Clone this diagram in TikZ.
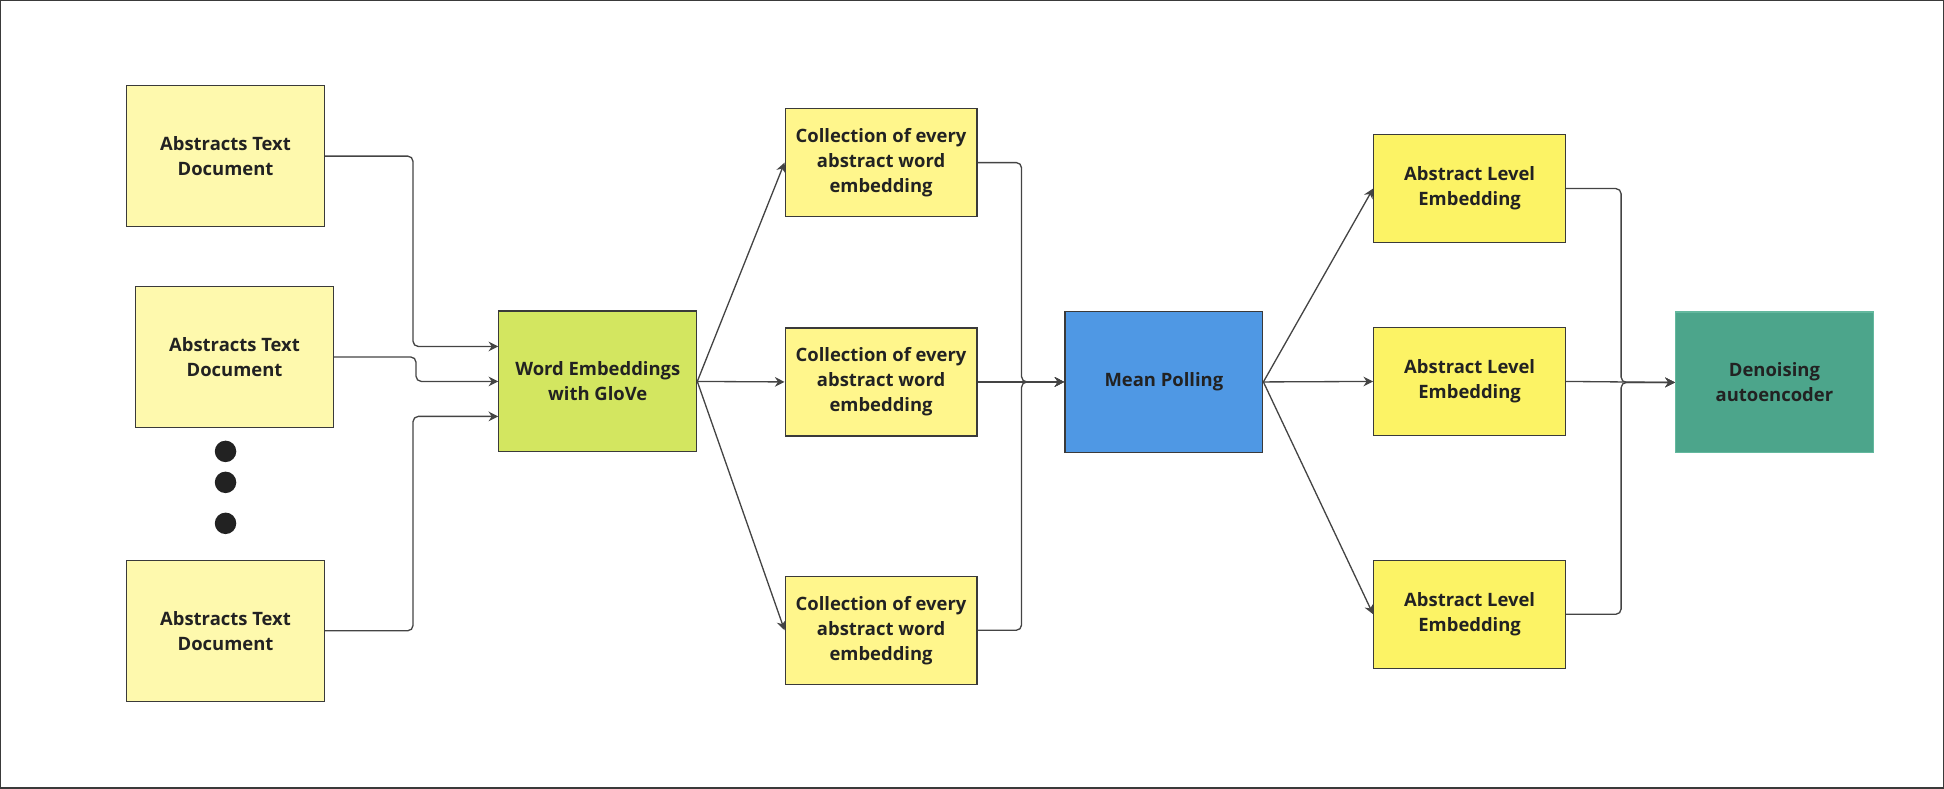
\documentclass[tikz,border=0pt]{standalone}
\usepackage{fontspec}
\setmainfont{Open Sans}
\usetikzlibrary{arrows.meta}

\definecolor{docfill}{HTML}{FEF9AD}
\definecolor{colfill}{HTML}{FFF68C}
\definecolor{lvlfill}{HTML}{FCF365}
\definecolor{gloveg}{HTML}{D3E660}
\definecolor{meanb}{HTML}{4F98E4}
\definecolor{denteal}{HTML}{4CA58B}
\definecolor{denedge}{HTML}{63B89E}
\definecolor{inkc}{HTML}{222222}
\definecolor{edgec}{HTML}{3A3A3A}
\definecolor{linkc}{HTML}{444444}

\tikzset{
  box/.style={rectangle,draw=edgec,line width=0.7pt,text=inkc,align=center,
    inner sep=0pt,font=\fontsize{10.5pt}{14.2pt}\selectfont\bfseries},
  bigbox/.style={box,minimum width=3.96cm,minimum height=2.82cm},
  smallbox/.style={box,minimum width=3.84cm,minimum height=2.16cm},
  link/.style={draw=linkc,line width=0.75pt,rounded corners=3pt,
    -{Stealth[length=5.5pt,width=5.5pt]}},
  dot/.style={circle,fill=inkc,inner sep=0pt,minimum size=0.43cm}
}

\begin{document}
\begin{tikzpicture}[x=0.02cm,y=-0.02cm]
\draw[edgec,line width=0.8pt] (0,0) rectangle (1944,788);

% input documents
\node[bigbox,fill=docfill] (doc1) at (225,155.5) {Abstracts Text\\Document};
\node[bigbox,fill=docfill] (doc2) at (234,356.5) {Abstracts Text\\Document};
\node[bigbox,fill=docfill] (doc3) at (225,630.5) {Abstracts Text\\Document};
\node[dot] (dot1) at (225,451) {};
\node[dot] (dot2) at (225,482) {};
\node[dot] (dot3) at (225,523) {};

% embedding stage
\node[bigbox,fill=gloveg] (glove) at (597.5,381) {Word Embeddings\\with GloVe};
\node[smallbox,fill=colfill] (col1) at (881,162) {Collection of every\\abstract word\\embedding};
\node[smallbox,fill=colfill] (col2) at (881,381.5) {Collection of every\\abstract word\\embedding};
\node[smallbox,fill=colfill] (col3) at (881,630) {Collection of every\\abstract word\\embedding};

% pooling stage
\node[bigbox,fill=meanb] (mean) at (1164,381.5) {Mean Polling};
\node[smallbox,fill=lvlfill] (lvl1) at (1470,188) {Abstract Level\\Embedding};
\node[smallbox,fill=lvlfill] (lvl2) at (1470,381) {Abstract Level\\Embedding};
\node[smallbox,fill=lvlfill] (lvl3) at (1470,614) {Abstract Level\\Embedding};
\node[bigbox,fill=denteal,draw=denedge] (den) at (1775,382) {Denoising\\autoencoder};

% connectors
\draw[link] (doc1.east) -- ++(88,0) |- ([yshift=0.7cm]glove.west);
\draw[link] (doc2.east) -- ++(82,0) |- (glove.west);
\draw[link] (doc3.east) -- ++(88,0) |- ([yshift=-0.7cm]glove.west);

\draw[link] (glove.east) -- (col1.west);
\draw[link] (glove.east) -- (col2.west);
\draw[link] (glove.east) -- (col3.west);

\draw[link] (col1.east) -- ++(44,0) |- (mean.west);
\draw[link] (col2.east) -- (mean.west);
\draw[link] (col3.east) -- ++(44,0) |- (mean.west);

\draw[link] (mean.east) -- (lvl1.west);
\draw[link] (mean.east) -- (lvl2.west);
\draw[link] (mean.east) -- (lvl3.west);

\draw[link] (lvl1.east) -- ++(55,0) |- (den.west);
\draw[link] (lvl2.east) -- (den.west);
\draw[link] (lvl3.east) -- ++(55,0) |- (den.west);
\end{tikzpicture}
\end{document}
